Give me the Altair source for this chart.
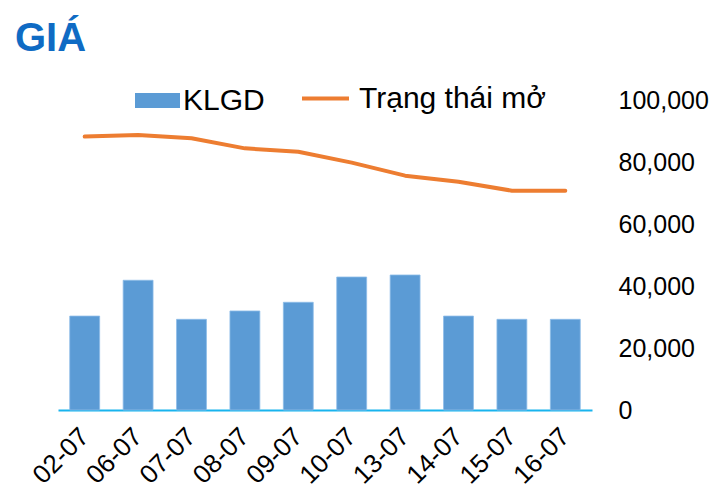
import altair as alt
import pandas as pd

dates = ["02-07", "06-07", "07-07", "08-07", "09-07", "10-07", "13-07", "14-07", "15-07", "16-07"]
klgd = [30300, 41850, 29250, 31950, 34750, 42900, 43550, 30300, 29250, 29250]
trang_thai_mo = [88200, 88700, 87650, 84400, 83300, 79800, 75600, 73650, 70750, 70750]
y_ticks = [0, 20000, 40000, 60000, 80000, 100000]

df = pd.DataFrame({"date": dates, "klgd": klgd, "oi": trang_thai_mo})
df["s_bar"] = "KLGD"
df["s_line"] = "Trạng thái mở"

FONT = "Liberation Sans"

x_enc = alt.X(
    "date:N", sort=dates, title=None,
    scale=alt.Scale(paddingInner=0.44, paddingOuter=0.22),
    axis=alt.Axis(labelAngle=-45, labelAlign="right", labelBaseline="middle",
                  labelFontSize=26, labelFont=FONT, labelColor="#000000",
                  labelPadding=22, ticks=False, domainColor="#19B4EE",
                  domainWidth=2),
)
y_scale = alt.Scale(domain=[0, 100000])

bars = alt.Chart(df).mark_bar(stroke="#8DBDE8", strokeWidth=0.8).encode(
    x=x_enc,
    y=alt.Y("klgd:Q", scale=y_scale, title=None,
            axis=alt.Axis(orient="right", values=y_ticks, format=",.0f", grid=False,
                          domain=False, ticks=False, labelFontSize=25, labelFont=FONT,
                          labelColor="#000000", labelPadding=26, labelAlign="left")),
    fill=alt.Fill("s_bar:N", title=None,
                  scale=alt.Scale(domain=["KLGD"], range=["#5B9BD5"]),
                  legend=alt.Legend(orient="none", legendX=77, legendY=-22,
                                    symbolType="M-1,-0.33H1V0.33H-1Z", symbolSize=2025,
                                    symbolStrokeWidth=0, labelFontSize=30, labelFont=FONT,
                                    labelColor="#000000", labelOffset=3, padding=0,
                                    labelLimit=400)),
)

line = alt.Chart(df).mark_line(strokeWidth=4, strokeCap="round", strokeJoin="round").encode(
    x=alt.X("date:N", sort=dates),
    y=alt.Y("oi:Q", scale=y_scale),
    stroke=alt.Stroke("s_line:N", title=None,
                      scale=alt.Scale(domain=["Trạng thái mở"], range=["#ED7D31"]),
                      legend=alt.Legend(orient="none", legendX=242, legendY=-27,
                                        symbolType="stroke", symbolSize=2209,
                                        symbolStrokeWidth=4, labelFontSize=30, labelFont=FONT,
                                        labelColor="#000000", labelOffset=8, padding=0,
                                        labelLimit=400)),
)

chart = alt.layer(bars, line).resolve_scale(
    fill="independent", stroke="independent"
).properties(
    width=534, height=310,
    padding={"left": 50, "top": 92, "right": 118, "bottom": 82},
    autosize=alt.AutoSizeParams(type="none"),
    title=alt.TitleParams("GIÁ", anchor="start", frame="group", font=FONT, fontSize=40,
                          fontWeight="bold", color="#0F6BC4", dx=-43, dy=10, offset=24),
).configure(background="#ffffff").configure_view(strokeWidth=0)

chart.save("out.html", embed_options={"renderer": "svg", "actions": False})
